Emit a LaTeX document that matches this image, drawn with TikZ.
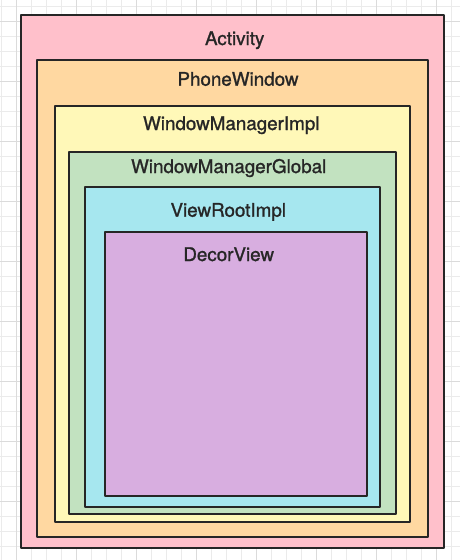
\documentclass[tikz,border=0pt]{standalone}
\usepackage{fontspec}
\setmainfont[FakeBold=1.2]{TeX Gyre Heros}
\definecolor{edge}{HTML}{262626}
\definecolor{txt}{HTML}{262626}
\definecolor{actfill}{HTML}{FFC0CB}
\definecolor{pwfill}{HTML}{FFD8A1}
\definecolor{wmifill}{HTML}{FFF8B8}
\definecolor{wmgfill}{HTML}{C2E2C0}
\definecolor{vrifill}{HTML}{A6E7EF}
\definecolor{dvfill}{HTML}{D8AEE0}
\begin{document}
\begin{tikzpicture}[x=1pt,y=-1pt,font=\fontsize{18.8}{22}\selectfont,line join = round,
	box/.style={draw=edge,line width=2.2pt,inner sep=0pt,anchor=north west},
	lbl/.style={anchor=base,text=txt,inner sep=0pt},
	minor/.style={draw=black!8,line width=1pt},
	major/.style={draw=black!14,line width=1pt}]
			\useasboundingbox (0,0) rectangle (460,560);
			\fill[white] (0,0) rectangle (460,560);
			% background grid
			\foreach \i in {0,...,30} \draw[minor] ({1.7+15*\i},0)--({1.7+15*\i},560);
			\foreach \i in {0,...,36} \draw[minor] (0,{6.7+15*\i})--(460,{6.7+15*\i});
			\foreach \i in {0,...,7} \draw[major] ({16.7+60*\i},0)--({16.7+60*\i},560);
			\foreach \i in {0,...,8} \draw[major] (0,{21.7+60*\i})--(460,{21.7+60*\i});
			% nested boxes
			\node[box,fill=actfill,minimum width=423,minimum height=533] (act) at (20,14) {};
			\node[box,fill=pwfill,minimum width=391,minimum height=477] (pw) at (36,59) {};
			\node[box,fill=wmifill,minimum width=355,minimum height=416] (wmi) at (54,105) {};
			\node[box,fill=wmgfill,minimum width=327,minimum height=362] (wmg) at (68,151) {};
			\node[box,fill=vrifill,minimum width=295,minimum height=320] (vri) at (84,186) {};
			\node[box,fill=dvfill,minimum width=262,minimum height=264] (dv) at (104,231) {};
			\node[lbl] (actlbl) at (234.7,45) {Activity};
			\node[lbl] (pwlbl) at (238,85.7) {PhoneWindow};
			\node[lbl] (wmilbl) at (231.3,130) {WindowManagerImpl};
			\node[lbl] (wmglbl) at (228.7,173) {WindowManagerGlobal};
			\node[lbl] (vrilbl) at (228.3,216.7) {ViewRootImpl};
			\node[lbl] (dvlbl) at (228.7,261) {DecorView};
			\end{tikzpicture}
\end{document}
